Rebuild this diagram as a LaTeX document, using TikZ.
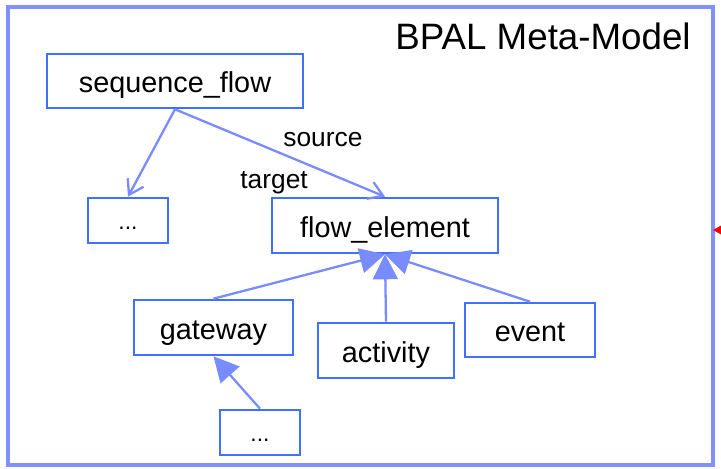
\documentclass[tikz,border=0pt]{standalone}
\usepackage{fontspec}
\setmainfont{Liberation Sans}
\usetikzlibrary{arrows.meta}
\definecolor{framecol}{RGB}{128,145,255}
\definecolor{boxcol}{RGB}{64,112,255}
\definecolor{linkcol}{RGB}{120,140,255}
\begin{document}
\begin{tikzpicture}
        [x=0.02cm, y=-0.02cm,
        class/.style={draw=boxcol, line width=1.5pt, fill=white, inner sep=0pt, text height=17.1pt, text depth=3.5pt, font=\fontsize{16.4}{19}\selectfont},
        etc/.style={class, minimum width=1.6cm, minimum height=0.9cm, text height=14pt, text depth=3.2pt, font=\fontsize{13}{15}\selectfont},
        assoc/.style={linkcol, line width=1.3pt, -{Straight Barb[length=0.28cm, width=0.36cm, line width=1.3pt]}},
        isa/.style={linkcol, line width=1.3pt, -{Triangle[length=0.5cm, width=0.5cm]}},
        role/.style={font=\fontsize{15}{18}\selectfont, anchor=base west, inner sep=0pt}]

        \useasboundingbox (0,0) rectangle (721,469);

        % package frame and its title
        \draw[framecol, line width=2.1pt] (8,7) rectangle (713,465);
        \node[anchor=base east, inner sep=0pt, font=\fontsize{20.9}{24}\selectfont] (title) at (691,50) {BPAL Meta-Model};

        \node[class, minimum width=5.12cm, minimum height=1.08cm] (seq) at (175,81) {sequence\_flow};
        \node[etc] (more1) at (128,220.5) {...};
        \node[class, minimum width=4.52cm, minimum height=1.1cm] (flow) at (385,225.5) {flow\_element};
        \node[class, minimum width=3.18cm, minimum height=1.1cm] (gate) at (213.5,327.5) {gateway};
        \node[class, minimum width=2.72cm, minimum height=1.1cm] (act) at (386,350.5) {activity};
        \node[class, minimum width=2.6cm, minimum height=1.08cm] (evt) at (530,330) {event};
        \node[etc] (more2) at (260,432.5) {...};

        % associations of sequence_flow
        \draw[assoc] (seq.south) -- (more1.north);
        \draw[assoc] (seq.south) -- (flow.north);
        \node[role] (src) at (283,147) {source};
        \node[role] (tgt) at (240,189) {target};

        % generalisations
        \draw[isa] (gate.north) -- (flow.south);
        \draw[isa] (act.north) -- (flow.south);
        \draw[isa] (evt.north) -- (flow.south);
        \draw[isa] (more2.north) -- (gate.south);

        % arrow tip coming in from the right
        \fill[red] (713,230) -- (722,225) -- (722,235) -- cycle;
    \end{tikzpicture}
\end{document}
